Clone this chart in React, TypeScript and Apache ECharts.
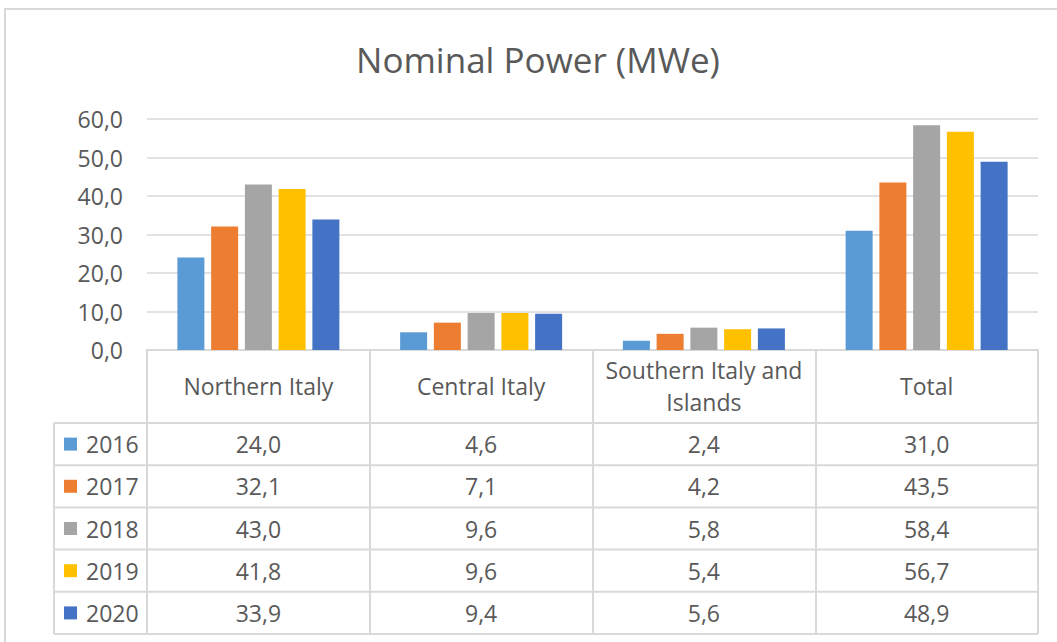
import React, { useEffect, useRef } from "react";
import * as echarts from "echarts";

const categories = ["Northern Italy", "Central Italy", "Southern Italy and\nIslands", "Total"];
const years = ["2016", "2017", "2018", "2019", "2020"];
const colors = ["#5B9BD5", "#ED7D31", "#A5A5A5", "#FFC000", "#4472C4"];
const v2016 = [24.0, 4.6, 2.4, 31.0];
const v2017 = [32.1, 7.1, 4.2, 43.5];
const v2018 = [43.0, 9.6, 5.8, 58.4];
const v2019 = [41.8, 9.6, 5.4, 56.7];
const v2020 = [33.9, 9.4, 5.6, 48.9];
const seriesValues = [v2016, v2017, v2018, v2019, v2020];
const yTicks = { min: 0, max: 60, interval: 10 };

const fmt = (v: number) => v.toFixed(1).replace(".", ",");

export default function App() {
  const ref = useRef<HTMLDivElement>(null);
  useEffect(() => {
    document.body.style.margin = "0";
    if (!ref.current) return;
    const chart = echarts.init(ref.current, null, { renderer: "svg" });
    const textColor = "#595959";
    const lineColor = "#d9d9d9";
    const font = "'Open Sans', sans-serif";
    const fs = 23;
    const gridTop = 119;
    const gridBottomY = 350;
    const tableBottom = 634;
    const headerBottom = 423;
    const rowH = (tableBottom - headerBottom) / years.length;
    const legendLeft = 54;
    const plotLeft = 147;
    const plotRight = 1038;

    chart.setOption({
      animation: false,
      textStyle: { fontFamily: font },
      title: {
        text: "Nominal Power (MWe)",
        left: 533,
        top: 37,
        textAlign: "center",
        textStyle: { fontSize: 35, fontWeight: "normal", color: textColor, fontFamily: font },
      },
      grid: { left: plotLeft, right: 1057 - plotRight, top: gridTop, bottom: 642 - gridBottomY, containLabel: false },
      legend: {
        orient: "vertical",
        left: 64,
        top: headerBottom + rowH / 2 - fs / 2,
        padding: 0,
        itemWidth: 13,
        itemHeight: 13,
        itemGap: rowH - fs,
        icon: "rect",
        textStyle: { fontSize: fs, color: textColor, fontFamily: font, padding: [0, 0, 0, 4] },
        data: years,
      },
      xAxis: {
        type: "category",
        data: categories,
        axisLine: { lineStyle: { color: lineColor, width: 2 } },
        axisTick: { show: true, length: tableBottom - gridBottomY, lineStyle: { color: lineColor, width: 2 } },
        axisLabel: {
          interval: 0,
          margin: 36,
          verticalAlign: "middle",
          lineHeight: 32,
          fontSize: fs,
          color: textColor,
          fontFamily: font,
        },
      },
      yAxis: {
        type: "value",
        min: yTicks.min,
        max: yTicks.max,
        interval: yTicks.interval,
        axisLabel: { formatter: (v: number) => fmt(v), fontSize: fs, color: textColor, margin: 24, fontFamily: font },
        splitLine: { lineStyle: { color: lineColor, width: 1.5 } },
        axisLine: { show: false },
        axisTick: { show: false },
      },
      series: years.map((y, i) => ({
        name: y,
        type: "bar",
        data: seriesValues[i],
        barWidth: 27,
        barGap: "25%",
        itemStyle: { color: colors[i] },
      })),
    });

    const graphics: any[] = [];
    // outer frame
    graphics.push({
      type: "rect",
      shape: { x: 5, y: 9, width: 1100, height: 700 },
      style: { fill: "none", stroke: lineColor, lineWidth: 2 },
      silent: true,
    });
    // table horizontal lines
    for (let r = 0; r <= years.length; r++) {
      const y = headerBottom + r * rowH;
      graphics.push({
        type: "line",
        shape: { x1: legendLeft, y1: y, x2: plotRight, y2: y },
        style: { stroke: lineColor, lineWidth: 2 },
        silent: true,
      });
    }
    // legend column left border
    graphics.push({
      type: "line",
      shape: { x1: legendLeft, y1: headerBottom, x2: legendLeft, y2: tableBottom },
      style: { stroke: lineColor, lineWidth: 2 },
      silent: true,
    });
    // cell values
    categories.forEach((c, ci) => {
      const cx = chart.convertToPixel({ xAxisIndex: 0 }, c) as number;
      seriesValues.forEach((vals, ri) => {
        graphics.push({
          type: "text",
          x: cx,
          y: headerBottom + ri * rowH + rowH / 2,
          style: {
            text: fmt(vals[ci]),
            fill: textColor,
            font: `${fs}px ${font}`,
            align: "center",
            verticalAlign: "middle",
          },
          silent: true,
        });
      });
    });
    chart.setOption({ graphic: graphics });

    return () => chart.dispose();
  }, []);
  return <div ref={ref} style={{ width: 1057, height: 642 }} />;
}
